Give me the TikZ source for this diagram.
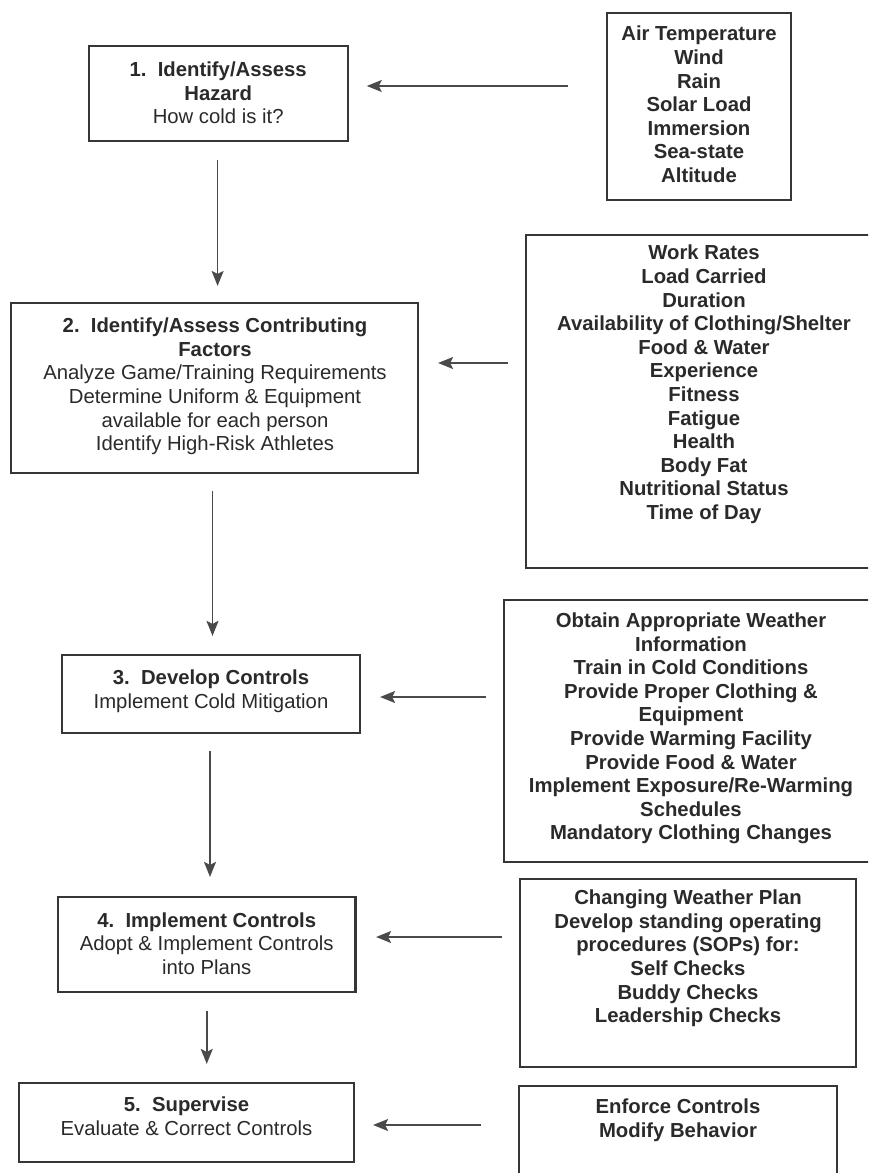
\documentclass[tikz,border=0pt]{standalone}
\usepackage{fontspec}
\setmainfont{Liberation Sans}
\usetikzlibrary{arrows.meta}
\definecolor{ink}{HTML}{2A2A2A}
\definecolor{edge}{HTML}{363636}
\definecolor{arrowc}{HTML}{4A4A4A}
\begin{document}
\begin{tikzpicture}[x=1pt,y=-1pt,
  box/.style={draw=edge, line width=2.2pt, inner sep=0pt},
  txt/.style={align=center, text=ink, inner sep=0pt, font=\fontsize{20.3pt}{23.6pt}\selectfont},
  btxt/.style={align=center, text=ink, inner sep=0pt, font=\fontsize{20.3pt}{23.6pt}\selectfont\bfseries},
  arr/.style={draw=arrowc, line width=1.5pt, -{Stealth[length=15pt,width=12pt,inset=3pt]}}]
\clip (0,0) rectangle (868,1173);
\fill[white] (0,0) rectangle (868,1173);

% left column boxes
\node[box, minimum width=259pt, minimum height=95pt] (h1) at (218.2,93.5) {};
\node[txt] (h1t) at (218.2,93) {\textbf{1.\ \ Identify/Assess}\\\textbf{Hazard}\\How cold is it?};

\node[box, minimum width=407pt, minimum height=170pt] (h2) at (214.5,388) {};
\node[txt] (h2t) at (215,386.5) {\textbf{2.\ \ Identify/Assess Contributing}\\\textbf{Factors}\\Analyze Game/Training Requirements\\Determine Uniform \& Equipment\\available for each person\\Identify High-Risk Athletes};

\node[box, minimum width=298pt, minimum height=78pt] (h3) at (211,694) {};
\node[txt] (h3t) at (211,691) {\textbf{3.\ \ Develop Controls}\\Implement Cold Mitigation};

\node[box, minimum width=297.5pt, minimum height=95pt] (h4) at (206.75,944.5) {};
\node[txt] (h4t) at (206.75,943.5) {\textbf{4.\ \ Implement Controls}\\Adopt \& Implement Controls\\into Plans};

\node[box, minimum width=335pt, minimum height=79pt] (h5) at (186.5,1122.5) {};
\node[txt] (h5t) at (186.5,1116.5) {\textbf{5.\ \ Supervise}\\Evaluate \& Correct Controls};

% right column boxes
\node[box, minimum width=184pt, minimum height=187pt] (fa) at (699,106.5) {};
\node[btxt] (fat) at (699,104.5) {Air Temperature\\Wind\\Rain\\Solar Load\\Immersion\\Sea-state\\Altitude};

\node[box, minimum width=356pt, minimum height=333pt] (fb) at (704,401.5) {};
\node[btxt] (fbt) at (704,384.5) {Work Rates\\Load Carried\\Duration\\Availability of Clothing/Shelter\\Food \& Water\\Experience\\Fitness\\Fatigue\\Health\\Body Fat\\Nutritional Status\\Time of Day};

\node[box, minimum width=374pt, minimum height=262pt] (fc) at (691,731) {};
\node[btxt] (fct) at (691,728.5) {Obtain Appropriate Weather\\Information\\Train in Cold Conditions\\Provide Proper Clothing \&\\Equipment\\Provide Warming Facility\\Provide Food \& Water\\Implement Exposure/Re-Warming\\Schedules\\Mandatory Clothing Changes};

\node[box, minimum width=336pt, minimum height=188pt] (fd) at (688,973) {};
\node[btxt] (fdt) at (688,958.5) {Changing Weather Plan\\Develop standing operating\\procedures (SOPs) for:\\Self Checks\\Buddy Checks\\Leadership Checks};

\node[box, minimum width=318pt, minimum height=130pt] (fe) at (678,1151) {};
\node[btxt] (fet) at (678,1120) {Enforce Controls\\Modify Behavior};

% arrow levels
\coordinate (ya) at (0,86);
\coordinate (yb) at (0,363);
\coordinate (yc) at (0,697);
\coordinate (yd) at (0,937);
\coordinate (ye) at (0,1125);

% horizontal arrows
\draw[arr, shorten <=38pt, shorten >=18pt] (fa.west |- ya) -- (h1.east |- ya);
\draw[arr, shorten <=17pt, shorten >=19pt] (fb.west |- yb) -- (h2.east |- yb);
\draw[arr, shorten <=17pt, shorten >=19pt] (fc.west |- yc) -- (h3.east |- yc);
\draw[arr, shorten <=17pt, shorten >=19.5pt] (fd.west |- yd) -- (h4.east |- yd);
\draw[arr, shorten <=37pt, shorten >=18pt] (fe.west |- ye) -- (h5.east |- ye);

% vertical arrows
\draw[arr, shorten <=18pt, shorten >=16pt] ([xshift=-0.6pt]h1.south) -- ([xshift=-0.6pt]h1.south |- h2.north);
\draw[arr, shorten <=17pt, shorten >=18pt] ([xshift=-2pt]h2.south) -- ([xshift=-2pt]h2.south |- h3.north);
\draw[arr, shorten <=17pt, shorten >=19pt] ([xshift=-1pt]h3.south) -- ([xshift=-1pt]h3.south |- h4.north);
\draw[arr, shorten <=18pt, shorten >=18pt] (h4.south) -- (h4.south |- h5.north);
\end{tikzpicture}
\end{document}
